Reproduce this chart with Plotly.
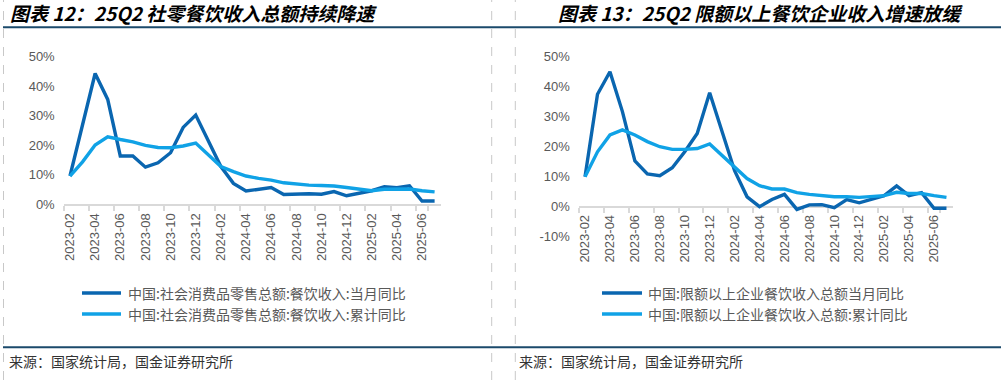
import plotly.graph_objects as go

W, H = 1001, 380

months = ["2023-02", "2023-03", "2023-04", "2023-05", "2023-06", "2023-07", "2023-08",
          "2023-09", "2023-10", "2023-11", "2023-12", "2024-01", "2024-02", "2024-03",
          "2024-04", "2024-05", "2024-06", "2024-07", "2024-08", "2024-09", "2024-10",
          "2024-11", "2024-12", "2025-01", "2025-02", "2025-03", "2025-04", "2025-05",
          "2025-06", "2025-07"]
tick_labels = ["2023-02", "2023-04", "2023-06", "2023-08", "2023-10", "2023-12",
               "2024-02", "2024-04", "2024-06", "2024-08", "2024-10", "2024-12",
               "2025-02", "2025-04", "2025-06"]

# Left chart: 社会消费品零售总额:餐饮收入 (%)
retail_month = [9.5, 27.0, 44.3, 35.5, 16.3, 16.3, 12.5, 14.0, 17.4, 26.0, 30.2, None,
                12.7, 7.0, 4.4, 5.1, 5.6, 3.2, 3.3, 3.5, 3.3, 4.2, 2.8, None,
                4.5, 5.9, 5.5, 6.2, 1.0, 1.0]
retail_cum = [9.5, 14.3, 20.0, 22.8, 21.9, 21.1, 19.9, 19.2, 19.1, 19.7, 20.7, None,
              12.7, 11.0, 9.5, 8.7, 8.1, 7.2, 6.8, 6.4, 6.3, 6.1, 5.6, None,
              4.5, 5.0, 5.0, 5.1, 4.5, 4.1]

# Right chart: 限额以上企业餐饮收入总额 (%)
above_month = [10.0, 37.5, 45.0, 31.7, 15.3, 10.9, 10.3, 13.0, 18.3, 24.4, 38.0, None,
               12.0, 3.3, 0.0, 2.4, 4.1, -0.9, 0.6, 0.7, -0.3, 2.4, 1.3, None,
               3.7, 6.9, 3.7, 4.7, -0.5, -0.5]
above_cum = [10.0, 18.3, 23.9, 25.6, 23.9, 21.7, 20.0, 19.1, 19.1, 19.4, 20.9, None,
             13.0, 9.4, 7.0, 5.9, 5.9, 4.7, 4.1, 3.7, 3.3, 3.3, 3.1, None,
             3.7, 4.8, 4.4, 4.4, 3.7, 3.1]

left_ticks = [0, 10, 20, 30, 40, 50]
right_ticks = [-10, 0, 10, 20, 30, 40, 50]

left_names = ["中国:社会消费品零售总额:餐饮收入:当月同比", "中国:社会消费品零售总额:餐饮收入:累计同比"]
right_names = ["中国:限额以上企业餐饮收入总额当月同比", "中国:限额以上企业餐饮收入总额:累计同比"]
titles = ["图表 12：25Q2 社零餐饮收入总额持续降速", "图表 13：25Q2 限额以上餐饮企业收入增速放缓"]
source = "来源：国家统计局，国金证券研究所"

DARK = "#0A66B0"
LIGHT = "#10A2E6"
GRAY_TXT = "#595959"
AX = "#D9D9D9"
NAVY = "#1B4A6B"
TICKFONT = dict(family="Liberation Sans, Arial", size=13, color=GRAY_TXT)
CJK = "Noto Sans CJK SC"


def px(x):
    return x / W


def py(y):
    return 1 - y / H


fig = go.Figure()

# traces
for xa, ya, ser, names in [("x", "y", [retail_month, retail_cum], left_names),
                           ("x2", "y2", [above_month, above_cum], right_names)]:
    for vals, col, nm in zip(ser, [DARK, LIGHT], names):
        fig.add_trace(go.Scatter(x=months, y=vals, mode="lines", name=nm,
                                 line=dict(color=col, width=3.4), connectgaps=True,
                                 xaxis=xa, yaxis=ya, showlegend=False))

# geometry (pixels)
L_x0, L_x1 = 63.7, 440.9
L_y0, L_y1 = 204.0, 56.7      # 0% and 50%
R_x0, R_x1 = 578.8, 952.7
R_ybot, R_ytop = 236.7, 56.7  # -10% and 50%
R_zero = 206.7

xcommon = dict(type="category", categoryorder="array", categoryarray=months,
               range=[-0.5, len(months) - 0.5], tickmode="array", tickvals=tick_labels,
               ticktext=tick_labels, tickson="boundaries", tickangle=-90,
               ticks="outside", ticklen=5, tickwidth=1.5, tickcolor=AX,
               showline=True, linecolor=AX, linewidth=2, showgrid=False, zeroline=False,
               tickfont=TICKFONT, ticklabelstandoff=2, automargin=False,
               layer="below traces")
ycommon = dict(showline=False, showgrid=False, zeroline=False, ticks="",
               tickfont=TICKFONT, tickmode="array", ticklabelstandoff=8, automargin=False)

fig.update_layout(
    xaxis=dict(domain=[px(L_x0), px(L_x1)], anchor="y", **xcommon),
    yaxis=dict(domain=[py(L_y0), py(L_y1)], anchor="x", range=[0, 50],
               tickvals=left_ticks, ticktext=[f"{v}%" for v in left_ticks], **ycommon),
    xaxis2=dict(domain=[px(R_x0), px(R_x1)], anchor="free", position=py(R_zero), **xcommon),
    yaxis2=dict(domain=[py(R_ybot), py(R_ytop)], anchor="x2", range=[-10, 50],
                tickvals=right_ticks, ticktext=[f"{v}%" for v in right_ticks], **ycommon),
)

shapes = []
annotations = []

# dashed separators
for xv in [3.5, 491.7, 515.3]:
    shapes.append(dict(type="line", xref="paper", yref="paper", x0=px(xv), x1=px(xv),
                       y0=0, y1=1, line=dict(color="#C8C8C8", width=1, dash="dash")))
# navy rules
for yv in [27.3, 347.3]:
    shapes.append(dict(type="line", xref="paper", yref="paper", x0=px(3), x1=1,
                       y0=py(yv), y1=py(yv), line=dict(color=NAVY, width=2)))

# custom legends
for (lx0, lx1, tx), names in [((82, 121, 126), left_names), ((602, 642, 646), right_names)]:
    for yv, col, nm in zip([293, 314], [DARK, LIGHT], names):
        shapes.append(dict(type="line", xref="paper", yref="paper", x0=px(lx0), x1=px(lx1),
                           y0=py(yv), y1=py(yv), line=dict(color=col, width=3.5)))
        annotations.append(dict(xref="paper", yref="paper", x=px(tx), y=py(yv), text=nm,
                                showarrow=False, xanchor="left", yanchor="middle",
                                font=dict(family=CJK, size=14, color=GRAY_TXT)))

# titles
annotations.append(dict(xref="paper", yref="paper", x=px(8), y=py(13), text=titles[0],
                        showarrow=False, xanchor="left", yanchor="middle",
                        font=dict(family=CJK, size=19, color="#000000", weight="bold",
                                  style="italic")))
annotations.append(dict(xref="paper", yref="paper", x=px(760), y=py(13), text=titles[1],
                        showarrow=False, xanchor="center", yanchor="middle",
                        font=dict(family=CJK, size=19, color="#000000", weight="bold",
                                  style="italic")))
# sources
for xv in [7, 517]:
    annotations.append(dict(xref="paper", yref="paper", x=px(xv), y=py(361), text=source,
                            showarrow=False, xanchor="left", yanchor="middle",
                            font=dict(family=CJK, size=14, color="#333333")))

fig.update_layout(shapes=shapes, annotations=annotations, width=W, height=H,
                  autosize=False, margin=dict(l=0, r=0, t=0, b=0, pad=0, autoexpand=False),
                  paper_bgcolor="white", plot_bgcolor="white", showlegend=False)

fig.write_html("out.html", config={"displayModeBar": False, "responsive": False},
               post_script="document.body.style.margin='0';"
                           "document.body.style.overflow='hidden';")
